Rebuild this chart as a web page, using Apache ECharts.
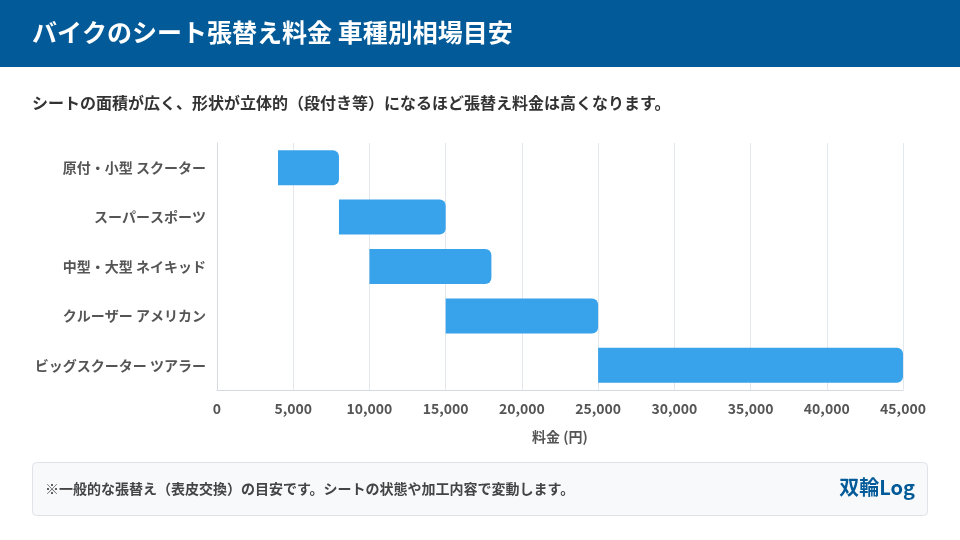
<!DOCTYPE html>
<html><head><meta charset="utf-8">
<script src="https://cdn.jsdelivr.net/npm/echarts@6/dist/echarts.min.js"></script>
<style>html,body{margin:0;padding:0;background:#fff}#c{width:960px;height:540px}</style>
</head><body><div id="c"></div>
<script>
const categories = ['原付・小型 スクーター','スーパースポーツ','中型・大型 ネイキッド','クルーザー アメリカン','ビッグスクーター ツアラー'];
const priceMin = [4000, 8000, 10000, 15000, 25000];
const priceMax = [8000, 15000, 18000, 25000, 45000];
const xTicks = [0, 5000, 10000, 15000, 20000, 25000, 30000, 35000, 40000, 45000];

const FONT = '"Noto Sans CJK JP", "Noto Sans", sans-serif';
const chart = echarts.init(document.getElementById('c'), null, {renderer:'canvas'});
chart.setOption({
  animation:false,
  textStyle:{fontFamily:FONT},
  graphic:[
    {type:'rect', shape:{x:0,y:0,width:960,height:67}, style:{fill:'#025b98'}, z:0},
    {type:'text', left:32, top:20, style:{text:'バイクのシート張替え料金 車種別相場目安', fill:'#fff', font:'bold 25px '+FONT}},
    {type:'text', left:32, top:95, style:{text:'シートの面積が広く、形状が立体的（段付き等）になるほど張替え料金は高くなります。', fill:'#333', font:'bold 16px '+FONT}},
    {type:'rect', shape:{x:32.5,y:462.5,width:895,height:53,r:4}, style:{fill:'#f7f9fb', stroke:'#dfe3e8', lineWidth:1}},
    {type:'text', left:45, top:482, style:{text:'※一般的な張替え（表皮交換）の目安です。シートの状態や加工内容で変動します。', fill:'#444', font:'bold 14px '+FONT}},
    {type:'text', right:45, top:477, style:{text:'双輪Log', fill:'#025b98', font:'bold 20px '+FONT}}
  ],
  grid:{left:217, right:57, top:143, bottom:150},
  xAxis:{
    type:'value', min:0, max:45000, interval:5000,
    name:'料金 (円)', nameLocation:'middle', nameGap:40,
    nameTextStyle:{color:'#555', fontSize:14, fontWeight:'bold', fontFamily:FONT},
    axisLine:{show:true, lineStyle:{color:'#d5d9e0'}},
    axisTick:{show:false},
    axisLabel:{color:'#555', fontSize:14, fontWeight:'bold', margin:12, fontFamily:FONT,
      formatter:v=> xTicks.includes(v) ? v.toLocaleString('en-US') : ''},
    splitLine:{show:true, lineStyle:{color:'#e3e8ef'}}
  },
  yAxis:{
    type:'category', data:categories, inverse:true,
    axisLine:{show:true, lineStyle:{color:'#d5d9e0'}},
    axisTick:{show:false},
    axisLabel:{color:'#555', fontSize:14, fontWeight:'bold', margin:11, fontFamily:FONT},
    splitLine:{show:false}
  },
  series:[
    {type:'bar', stack:'r', data:priceMin, itemStyle:{color:'transparent'}, barWidth:35, silent:true},
    {type:'bar', stack:'r', data:priceMax.map((v,i)=>v-priceMin[i]), barWidth:35,
     itemStyle:{color:'#38a2ea', borderRadius:[0,6,6,0]}}
  ]
});
</script></body></html>
